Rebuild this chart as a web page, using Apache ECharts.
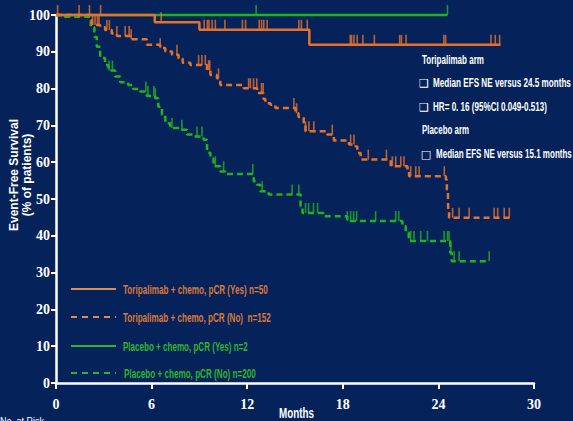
<!DOCTYPE html>
<html>
<head>
<meta charset="utf-8">
<script src="https://cdn.jsdelivr.net/npm/echarts@6/dist/echarts.min.js"></script>
<style>
  html, body { margin: 0; padding: 0; background: #05235a; }
  #chart { width: 573px; height: 421px; }
</style>
</head>
<body>
<div id="chart"></div>
<script>
// Kaplan-Meier event-free survival by arm and pCR status.
// Step arrays: [month, survival % after the event at that month].
const toriYesSteps = [[0,100],[6.2,98],[9.0,96],[15.9,91.9],[27.9,91.9]];
const toriYesCensor = [0.1,1.45,2.1,2.8,6.6,9.3,9.5,9.6,9.8,10.0,10.6,11.7,11.9,12.75,12.9,13.04,13.25,15.24,15.4,15.77,18.47,18.55,18.7,18.9,19.26,19.98,21.57,21.68,21.97,24.34,24.45,27.3,27.57,27.84];

const toriNoSteps = [[0,100],[2.25,97.3],[2.77,96.7],[3.08,95.9],[3.5,95.0],[3.82,94.3],[4.65,93.4],[5.7,91.9],[6.54,91.0],[6.86,90.1],[7.28,89.2],[7.69,88.2],[7.95,87.0],[8.43,86.4],[9.48,85.0],[9.69,83.7],[10.1,82.8],[10.31,81.0],[11.78,80.1],[12.62,78.8],[13.02,77.2],[13.14,76.0],[13.46,75.6],[13.77,74.7],[15.03,73.3],[15.22,72.3],[15.55,70.2],[15.66,68.4],[17.02,67.5],[17.44,65.9],[18.39,64.8],[18.81,64.3],[18.91,62.5],[19.12,60.7],[21.01,58.9],[22.06,58.0],[22.16,56.2],[24.47,55.3],[24.53,52.6],[24.6,49.9],[24.62,46.7],[24.67,44.9],[28.55,44.9]];
const toriNoCensor = [2.3,2.45,2.6,2.7,3.19,3.35,3.82,4.34,4.59,4.72,6.54,7.59,8.95,9.16,9.37,9.58,9.65,10.2,12.09,12.2,12.4,12.6,12.9,13.0,14.93,15.1,15.66,15.87,16.18,17.34,18.49,18.7,19.6,20.74,21.11,21.32,21.64,21.84,22.26,22.58,22.79,24.37,24.89,25.3,25.93,27.5,27.72,28.13,28.45];

const placYesSteps = [[0,100],[24.57,100]];
const placYesCensor = [12.56,24.57];

const placNoSteps = [[0,100],[0.3,99.5],[2.18,96.7],[2.41,94],[2.56,91.4],[2.77,88.3],[3.08,86.4],[3.29,84.9],[3.71,83.3],[4.03,81.7],[4.53,81.0],[4.84,79.9],[5.28,79.2],[5.7,78.0],[6.23,77.4],[6.42,75.1],[6.65,72.9],[6.86,70.6],[7.17,69.3],[7.8,68.8],[8.22,67.5],[8.62,67.0],[9.26,66.1],[9.48,62.6],[9.69,61.0],[9.89,58.9],[10.31,57.5],[10.63,56.8],[12.41,54.8],[12.62,53.9],[12.83,52.1],[13.35,51.2],[15.35,48.0],[15.47,46.2],[16.79,45.3],[18.28,44.0],[21.74,42.6],[21.95,40.9],[22.14,38.6],[24.74,35.4],[24.84,33.1],[27.19,33.1]];
const placNoCensor = [3.33,3.54,5.64,5.77,6.14,6.23,7.28,7.9,8.85,9.16,10.0,10.52,12.35,12.94,14.82,15.24,15.66,15.85,16.16,16.42,18.28,18.49,18.68,18.87,20.06,21.32,21.51,22.26,22.47,22.89,23.31,24.36,24.57,24.67,24.78,24.99,25.3,27.19];

const xTicks = [0, 6, 12, 18, 24, 30];
const yTicks = [0, 10, 20, 30, 40, 50, 60, 70, 80, 90, 100];

const legendLabels = [
  'Toripalimab + chemo, pCR (Yes) n=50',
  'Toripalimab + chemo, pCR (No)  n=152',
  'Placebo + chemo, pCR (Yes) n=2',
  'Placebo + chemo, pCR (No) n=200'
];
const noteLines = [
  'Toripalimab arm',
  'Median EFS NE versus 24.5 months',
  'HR= 0. 16 (95%CI 0.049-0.513)',
  'Placebo arm',
  'Median EFS NE versus 15.1 months'
];
const noteBullets = ['', '\u2751', '\u2751', '', '\u25A1'];

const ORANGE = '#e8712a';
const GREEN = '#1fb31f';
const NAVY = '#05235a';

// survival value at time t from a step array
function survAt(steps, t) {
  let v = steps[0][1];
  for (const p of steps) { if (p[0] <= t) v = p[1]; else break; }
  return v;
}
function censorPoints(steps, times) {
  return times.map(t => [t, survAt(steps, t)]);
}

function curve(name, steps, color, dashed, z) {
  return {
    name, type: 'line', step: 'end', data: steps, showSymbol: false,
    z, clip: false, animation: false,
    lineStyle: { color, width: 2.5, type: dashed ? [6, 4] : 'solid' }
  };
}
function ticks(steps, times, color, z) {
  return {
    type: 'scatter', data: censorPoints(steps, times), symbol: 'rect',
    symbolSize: [1.6, 10], symbolOffset: [0, -5], z, clip: false, animation: false,
    itemStyle: { color }, silent: true
  };
}

// narrow lettering: squeeze a regular face horizontally to a given width
const measureCtx = document.createElement('canvas').getContext('2d');
function squeeze(text, font, width) {
  measureCtx.font = font;
  const w = measureCtx.measureText(text).width;
  return w > 0 ? width / w : 1;
}
function narrowText(text, font, x, y, width, fill, extra) {
  return Object.assign({
    type: 'text', x, y, scaleX: squeeze(text, font, width), originX: 0, originY: 0,
    style: { text, fill, font, verticalAlign: 'middle' }
  }, extra || {});
}

const chart = echarts.init(document.getElementById('chart'), null, { renderer: 'svg' });

const legendFont = 'bold 12.5px "Liberation Sans", Arial, sans-serif';
const legendColors = ['#d9783a', '#d9783a', '#2db52d', '#2db52d'];
const legendLineColors = ['#dd8c55', '#dd8c55', '#2db52d', '#2db52d'];
const legendY = [289, 317, 346, 373];
const legendX = [123, 123, 123, 124];
const legendW = [145, 148, 125, 132];
const legendGraphics = [];
legendLabels.forEach((lab, i) => {
  legendGraphics.push({
    type: 'line', shape: { x1: 71, y1: legendY[i], x2: 116, y2: legendY[i] },
    style: { stroke: legendLineColors[i], lineWidth: 2.2, lineDash: (i % 2 === 1) ? [6, 5] : null }
  });
  legendGraphics.push(narrowText(lab, legendFont, legendX[i], legendY[i], legendW[i], legendColors[i]));
});

const noteFont = 'bold 12px "Liberation Sans", Arial, sans-serif';
const noteY = [60, 83, 107, 130, 154];
const noteX = [422, 433, 433, 422, 436];
const noteW = [62, 138, 114, 47, 136];
const noteGraphics = [];
noteLines.forEach((t, i) => {
  noteGraphics.push(narrowText(t, noteFont, noteX[i], noteY[i], noteW[i], '#ffffff'));
  if (noteBullets[i]) {
    noteGraphics.push({
      type: 'text', x: i === 4 ? 426 : 424, y: noteY[i],
      style: { text: noteBullets[i], fill: '#ffffff', font: 'bold 11px "DejaVu Sans", sans-serif', align: 'center', verticalAlign: 'middle' }
    });
  }
});

chart.setOption({
  backgroundColor: NAVY,
  animation: false,
  grid: { left: 56, right: 39, top: 15, bottom: 38 },
  xAxis: {
    type: 'value', min: 0, max: 30, interval: 6,
    axisLine: { lineStyle: { color: '#ffffff', width: 2.5 } },
    axisTick: { show: true, length: 6, lineStyle: { color: '#ffffff', width: 2 } },
    axisLabel: {
      color: '#ffffff', margin: 14,
      fontFamily: '"Liberation Serif", serif', fontWeight: 'bold', fontSize: 14,
      formatter: v => xTicks.includes(v) ? String(v) : ''
    },
    splitLine: { show: false }
  },
  yAxis: {
    type: 'value', min: 0, max: 100, interval: 10,
    axisLine: { show: true, lineStyle: { color: '#ffffff', width: 2.5 } },
    axisTick: { show: true, length: 5, lineStyle: { color: '#ffffff', width: 2 } },
    axisLabel: {
      color: '#ffffff', margin: 6,
      fontFamily: '"Liberation Serif", serif', fontWeight: 'bold', fontSize: 14,
      formatter: v => yTicks.includes(v) ? String(v) : ''
    },
    splitLine: { show: false }
  },
  series: [
    curve('Placebo + chemo, pCR (Yes)', placYesSteps, GREEN, false, 2),
    curve('Placebo + chemo, pCR (No)', placNoSteps, GREEN, true, 2),
    curve('Toripalimab + chemo, pCR (No)', toriNoSteps, ORANGE, true, 3),
    curve('Toripalimab + chemo, pCR (Yes)', toriYesSteps, ORANGE, false, 3),
    ticks(placYesSteps, placYesCensor, GREEN, 4),
    ticks(placNoSteps, placNoCensor, GREEN, 4),
    ticks(toriNoSteps, toriNoCensor, ORANGE, 4),
    ticks(toriYesSteps, toriYesCensor, ORANGE, 4)
  ],
  graphic: [
    {
      type: 'text', x: 20, y: 175, rotation: Math.PI / 2,
      style: {
        text: 'Event-Free Survival\n(% of patients)', fill: '#ffffff',
        font: 'bold 12px "Liberation Sans", Arial, sans-serif',
        align: 'center', verticalAlign: 'middle', lineHeight: 13
      }
    },
    narrowText('Months', 'bold 14px "Liberation Sans", Arial, sans-serif', 279, 413, 35, '#ffffff'),
    narrowText('No. at Risk', '11px "Liberation Sans", Arial, sans-serif', 0, 421, 44, '#ffffff'),
    ...legendGraphics,
    ...noteGraphics
  ]
});
</script>
</body>
</html>
